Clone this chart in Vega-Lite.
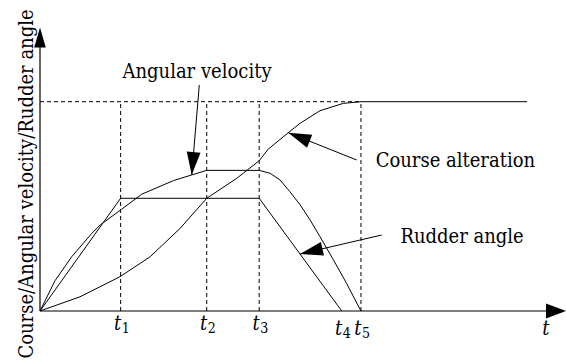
{
  "$schema": "https://vega.github.io/schema/vega-lite/v6.json",
  "width": 566,
  "height": 360,
  "autosize": {"type": "none"},
  "padding": 0,
  "background": "white",
  "config": {"view": {"stroke": null}, "font": "DejaVu Serif Condensed", "text": {"color": "black"}},
  "datasets": {
    "curves": [
      {"series": "Course alteration", "x": 0, "y": 0},
      {"series": "Course alteration", "x": 1.25, "y": 0.068},
      {"series": "Course alteration", "x": 2.5, "y": 0.164},
      {"series": "Course alteration", "x": 3.44, "y": 0.259},
      {"series": "Course alteration", "x": 4.38, "y": 0.395},
      {"series": "Course alteration", "x": 5.21, "y": 0.5385},
      {"series": "Course alteration", "x": 6.15, "y": 0.634},
      {"series": "Course alteration", "x": 6.85, "y": 0.718},
      {"series": "Course alteration", "x": 7.13, "y": 0.773},
      {"series": "Course alteration", "x": 7.76, "y": 0.852},
      {"series": "Course alteration", "x": 8.13, "y": 0.897},
      {"series": "Course alteration", "x": 8.75, "y": 0.957},
      {"series": "Course alteration", "x": 9.48, "y": 0.992},
      {"series": "Course alteration", "x": 10.03, "y": 1.0},
      {"series": "Course alteration", "x": 15.22, "y": 1.0},
      {"series": "Angular velocity", "x": 0, "y": 0},
      {"series": "Angular velocity", "x": 0.47, "y": 0.145},
      {"series": "Angular velocity", "x": 0.99, "y": 0.259},
      {"series": "Angular velocity", "x": 1.62, "y": 0.371},
      {"series": "Angular velocity", "x": 1.88, "y": 0.411},
      {"series": "Angular velocity", "x": 2.55, "y": 0.486},
      {"series": "Angular velocity", "x": 3.18, "y": 0.558},
      {"series": "Angular velocity", "x": 4.17, "y": 0.623},
      {"series": "Angular velocity", "x": 4.74, "y": 0.65},
      {"series": "Angular velocity", "x": 5.21, "y": 0.672},
      {"series": "Angular velocity", "x": 6.85, "y": 0.672},
      {"series": "Angular velocity", "x": 7.19, "y": 0.658},
      {"series": "Angular velocity", "x": 7.5, "y": 0.626},
      {"series": "Angular velocity", "x": 7.81, "y": 0.57},
      {"series": "Angular velocity", "x": 8.13, "y": 0.507},
      {"series": "Angular velocity", "x": 8.44, "y": 0.435},
      {"series": "Angular velocity", "x": 8.75, "y": 0.355},
      {"series": "Angular velocity", "x": 9.17, "y": 0.244},
      {"series": "Angular velocity", "x": 9.58, "y": 0.132},
      {"series": "Angular velocity", "x": 10.03, "y": 0},
      {"series": "Rudder angle", "x": 0, "y": 0},
      {"series": "Rudder angle", "x": 2.52, "y": 0.5385},
      {"series": "Rudder angle", "x": 6.85, "y": 0.5385},
      {"series": "Rudder angle", "x": 9.43, "y": 0}
    ],
    "vlines": [
      {"x": 2.52, "y": 0, "y2": 1},
      {"x": 5.21, "y": 0, "y2": 1},
      {"x": 6.85, "y": 0, "y2": 1},
      {"x": 10.03, "y": 0, "y2": 1}
    ],
    "hline": [{"x": 0, "x2": 10.03, "y": 1}],
    "axes": [
      {"x": 0, "y": 0, "x2": 16.0, "y2": 0},
      {"x": 0, "y": 0, "x2": 0, "y2": 1.3}
    ],
    "xarrow": [{"x": 16.4375, "y": 0}],
    "yarrow": [{"x": 0, "y": 1.354}],
    "notes": [
      {"label": "Angular velocity", "tx": 4.906, "ty": 1.1118, "x": 4.978, "y": 1.0798, "x2": 4.741, "y2": 0.6498},
      {"label": "Course alteration", "tx": 12.98, "ty": 0.6894, "x": 9.897, "y": 0.7215, "x2": 7.759, "y2": 0.8519},
      {"label": "Rudder angle", "tx": 13.19, "ty": 0.3263, "x": 10.678, "y": 0.3631, "x2": 8.125, "y2": 0.2723}
    ],
    "ticks": [
      {"x": 2.52, "y": -0.092, "t": "t", "sub": "1"},
      {"x": 5.21, "y": -0.092, "t": "t", "sub": "2"},
      {"x": 6.85, "y": -0.092, "t": "t", "sub": "3"},
      {"x": 9.43, "y": -0.113, "t": "t", "sub": "4"},
      {"x": 10.03, "y": -0.113, "t": "t", "sub": "5"}
    ],
    "ytitle": [{"text": "Course/Angular velocity/Rudder angle", "x": -0.219, "y": 0.6068}],
    "xtitle": [{"text": "t", "x": 15.81, "y": -0.1147}]
  },
  "encoding": {
    "x": {"field": "x", "type": "quantitative", "scale": {"domain": [-1.25, 16.4375], "nice": false, "zero": false}, "axis": null},
    "y": {"field": "y", "type": "quantitative", "scale": {"domain": [-0.2341, 1.4859], "nice": false, "zero": false}, "axis": null}
  },
  "layer": [
    {
      "data": {"name": "vlines"},
      "mark": {"type": "rule", "color": "black", "strokeWidth": 1, "strokeDash": [4, 3]},
      "encoding": {"y2": {"field": "y2"}}
    },
    {
      "data": {"name": "hline"},
      "mark": {"type": "rule", "color": "black", "strokeWidth": 1, "strokeDash": [4, 3]},
      "encoding": {"x2": {"field": "x2"}}
    },
    {
      "data": {"name": "axes"},
      "mark": {"type": "rule", "color": "black", "strokeWidth": 1.2},
      "encoding": {"x2": {"field": "x2"}, "y2": {"field": "y2"}}
    },
    {
      "data": {"name": "xarrow"},
      "mark": {"type": "point", "shape": "M0,0L-0.75,2L0.75,2Z", "size": 400, "angle": 90, "filled": true, "color": "black", "opacity": 1},
      "encoding": {}
    },
    {
      "data": {"name": "yarrow"},
      "mark": {"type": "point", "shape": "M0,0L-0.58,2L0.58,2Z", "size": 400, "angle": 0, "filled": true, "color": "black", "opacity": 1},
      "encoding": {}
    },
    {
      "data": {"name": "curves"},
      "mark": {"type": "line", "color": "black", "strokeWidth": 1},
      "encoding": {"detail": {"field": "series"}}
    },
    {
      "data": {"name": "notes"},
      "mark": {"type": "rule", "color": "black", "strokeWidth": 1},
      "encoding": {"x2": {"field": "x2"}, "y2": {"field": "y2"}}
    },
    {
      "data": {"name": "notes"},
      "transform": [{"filter": "datum.label === 'Angular velocity'"}],
      "mark": {"type": "point", "shape": "M0,0L-0.6,2L0.6,2Z", "size": 529, "angle": 184.8, "filled": true, "color": "black", "opacity": 1},
      "encoding": {"x": {"field": "x2", "type": "quantitative"}, "y": {"field": "y2", "type": "quantitative"}}
    },
    {
      "data": {"name": "notes"},
      "transform": [{"filter": "datum.label === 'Course alteration'"}],
      "mark": {"type": "point", "shape": "M0,0L-0.6,2L0.6,2Z", "size": 529, "angle": 291.8, "filled": true, "color": "black", "opacity": 1},
      "encoding": {"x": {"field": "x2", "type": "quantitative"}, "y": {"field": "y2", "type": "quantitative"}}
    },
    {
      "data": {"name": "notes"},
      "transform": [{"filter": "datum.label === 'Rudder angle'"}],
      "mark": {"type": "point", "shape": "M0,0L-0.6,2L0.6,2Z", "size": 529, "angle": 256.9, "filled": true, "color": "black", "opacity": 1},
      "encoding": {"x": {"field": "x2", "type": "quantitative"}, "y": {"field": "y2", "type": "quantitative"}}
    },
    {
      "data": {"name": "notes"},
      "mark": {"type": "text", "font": "DejaVu Serif Condensed", "fontSize": 20, "align": "center", "baseline": "alphabetic", "color": "black"},
      "encoding": {"x": {"field": "tx", "type": "quantitative"}, "y": {"field": "ty", "type": "quantitative"}, "text": {"field": "label"}}
    },
    {
      "data": {"name": "ticks"},
      "mark": {"type": "text", "font": "DejaVu Serif Condensed", "fontSize": 20, "fontStyle": "italic", "align": "right", "baseline": "alphabetic", "dx": 0.5, "color": "black"},
      "encoding": {"text": {"field": "t"}}
    },
    {
      "data": {"name": "ticks"},
      "mark": {"type": "text", "font": "DejaVu Serif Condensed", "fontSize": 14, "align": "left", "baseline": "alphabetic", "dx": 1, "dy": 3, "color": "black"},
      "encoding": {"text": {"field": "sub"}}
    },
    {
      "data": {"name": "ytitle"},
      "mark": {"type": "text", "font": "DejaVu Serif Condensed", "fontSize": 20, "angle": 270, "align": "center", "baseline": "alphabetic", "color": "black"},
      "encoding": {"text": {"field": "text"}}
    },
    {
      "data": {"name": "xtitle"},
      "mark": {"type": "text", "font": "DejaVu Serif Condensed", "fontSize": 20, "fontStyle": "italic", "align": "center", "baseline": "alphabetic", "color": "black"},
      "encoding": {"text": {"field": "text"}}
    }
  ]
}
